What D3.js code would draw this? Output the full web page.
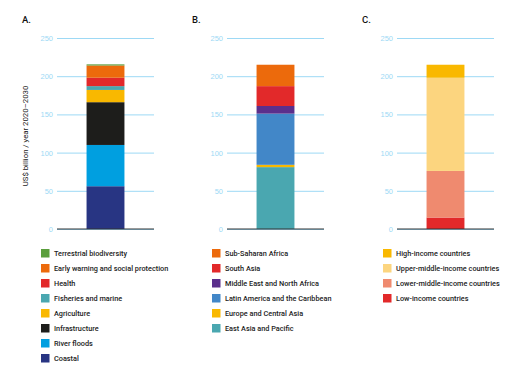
<!DOCTYPE html>
<html>
<head>
<meta charset="utf-8">
<script src="https://cdn.jsdelivr.net/npm/d3@7"></script>
<style>
  body { margin: 0; background: #fff; }
  svg { font-family: Roboto, "Liberation Sans", sans-serif; }
</style>
</head>
<body>
<svg id="chart" width="512" height="380"></svg>
<script>
// Datos de cada panel (de abajo hacia arriba)
const sectorNames = ["Coastal", "River floods", "Infrastructure", "Agriculture", "Fisheries and marine", "Health", "Early warning and social protection", "Terrestrial biodiversity"];
const sectorValues = [56, 54, 56, 16, 5, 11, 16, 1.5];
const sectorColors = ["#283583", "#009fe0", "#1d1d1b", "#f9b800", "#4aa7b0", "#e2292a", "#ec6a0c", "#5a9e3c"];

const regionNames = ["East Asia and Pacific", "Europe and Central Asia", "Latin America and the Caribbean", "Middle East and North Africa", "South Asia", "Sub-Saharan Africa"];
const regionValues = [81, 3, 67, 10, 26, 28];
const regionColors = ["#4aa7b0", "#f9b800", "#4287c8", "#5b2f8c", "#e2292a", "#ec6a0c"];

const incomeNames = ["Low-income countries", "Lower-middle-income countries", "Upper-middle-income countries", "High-income countries"];
const incomeValues = [15, 61, 122, 17];
const incomeColors = ["#e2292a", "#ef8a6f", "#fcd57f", "#f9b800"];

const yTicks = [0, 50, 100, 150, 200, 250];

const panels = [
  { title: "A.", names: sectorNames, values: sectorValues, colors: sectorColors },
  { title: "B.", names: regionNames, values: regionValues, colors: regionColors },
  { title: "C.", names: incomeNames, values: incomeValues, colors: incomeColors }
];

const svg = d3.select("#chart");
const plotTop = 38, plotBottom = 229;
const y = d3.scaleLinear().domain([0, 250]).range([plotBottom, plotTop]);

panels.forEach((p, i) => {
  const ox = i * 170;
  const g = svg.append("g").attr("transform", `translate(${ox},0)`);

  // Titulo del panel
  g.append("text").attr("x", 22).attr("y", 23).text(p.title)
    .style("font-size", "9.5px").style("font-weight", "500").attr("fill", "#111");

  // Grid y etiquetas
  const x = d3.scaleBand().domain(["bar"]).range([57, 154]).paddingInner(0).paddingOuter(0.78);

  const axis = d3.axisLeft(y).tickValues(yTicks).tickSize(-(154 - 57)).tickPadding(4);
  const ag = g.append("g").attr("transform", "translate(57,0)").call(axis);
  ag.select(".domain").remove();
  ag.selectAll(".tick line").attr("stroke", "#9dd9f5").attr("stroke-width", 1);
  ag.selectAll(".tick text").attr("fill", "#9dd9f5").style("font-size", "7.5px");

  // Barra apilada
  let acc = 0;
  const stacked = p.values.map((v, k) => {
    const d = { y0: acc, y1: acc + v, color: p.colors[k] };
    acc += v;
    return d;
  });
  g.selectAll("rect.seg").data(stacked).join("rect")
    .attr("class", "seg")
    .attr("x", x("bar")).attr("width", x.bandwidth())
    .attr("y", d => y(d.y1)).attr("height", d => y(d.y0) - y(d.y1))
    .attr("fill", d => d.color);

  // Linea base
  g.append("line").attr("x1", 57).attr("x2", 154).attr("y1", plotBottom).attr("y2", plotBottom)
    .attr("stroke", "#333").attr("stroke-width", 1);

  // Leyenda (orden inverso: de arriba hacia abajo)
  const legend = g.append("g").attr("transform", `translate(${i === 0 ? 41 : i === 1 ? 42 : 43},249)`);
  const items = p.names.map((n, k) => ({ name: n, color: p.colors[k] })).reverse();
  items.forEach((it, k) => {
    const row = legend.append("g").attr("transform", `translate(0,${k * 15})`);
    row.append("rect").attr("width", 8.5).attr("height", 8.5).attr("fill", it.color);
    row.append("text").attr("x", 13).attr("y", 7).text(it.name)
      .style("font-size", "7.3px").style("font-weight", "500").attr("fill", "#222");
  });
});

// Etiqueta del eje Y
svg.append("text")
  .attr("transform", "translate(28,136) rotate(-90)")
  .attr("text-anchor", "middle")
  .style("font-size", "7.8px").attr("fill", "#222")
  .text("US$ billion / year 2020–2030");
</script>
</body>
</html>
